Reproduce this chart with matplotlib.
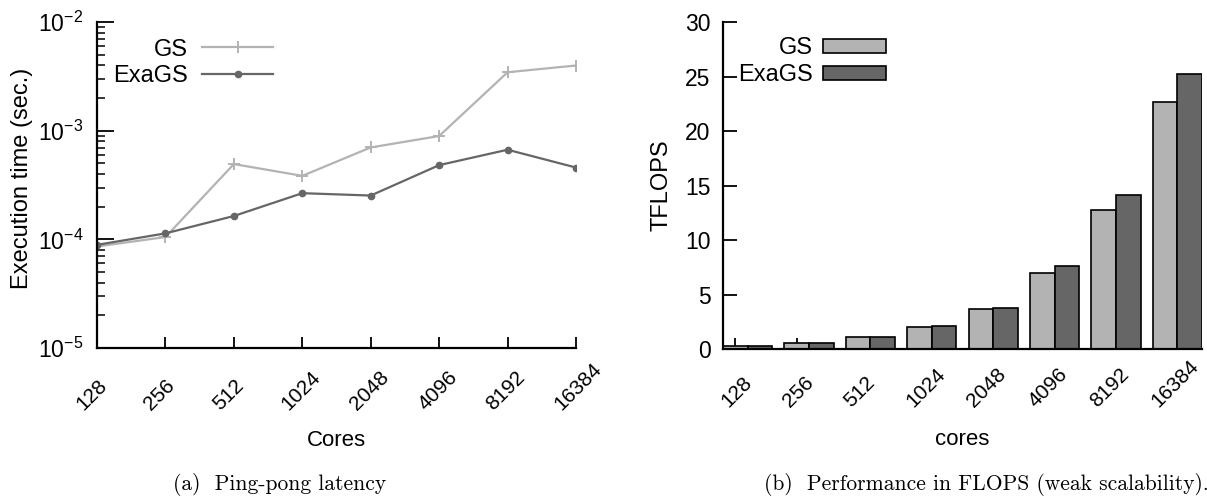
import numpy as np
import matplotlib
matplotlib.use("Agg")
import matplotlib.pyplot as plt
from matplotlib.ticker import LogLocator, NullFormatter, NullLocator
from matplotlib.transforms import blended_transform_factory, ScaledTranslation

plt.rcParams['font.family'] = ['Liberation Sans', 'DejaVu Sans']
plt.rcParams['mathtext.fontset'] = 'custom'
plt.rcParams['mathtext.rm'] = 'Liberation Sans'
plt.rcParams['mathtext.it'] = 'Liberation Sans:italic'
plt.rcParams['mathtext.bf'] = 'Liberation Sans:bold'

# data
cores = ["128", "256", "512", "1024", "2048", "4096", "8192", "16384"]
gs_latency = [8.6e-5, 1.05e-4, 4.93e-4, 3.84e-4, 7.01e-4, 8.93e-4, 3.45e-3, 3.98e-3]
exags_latency = [8.9e-5, 1.135e-4, 1.64e-4, 2.66e-4, 2.53e-4, 4.82e-4, 6.68e-4, 4.58e-4]
gs_tflops = [0.28, 0.58, 1.07, 2.05, 3.70, 7.0, 12.75, 22.7]
exags_tflops = [0.29, 0.58, 1.1, 2.14, 3.79, 7.65, 14.1, 25.2]

c_gs = "#b3b3b3"
c_exa = "#666666"
fs = 16.5
fs_xt = 15


def rotated_labels(ax, xs, labels, dx, dy):
    # gnuplot-like "rotate by 45": text starts below-left of the tick
    tr = blended_transform_factory(ax.transData, ax.transAxes) + \
        ScaledTranslation(dx / 100, dy / 100, ax.figure.dpi_scale_trans)
    for xi, lab in zip(xs, labels):
        ax.text(xi, 0, lab, transform=tr, rotation=45, rotation_mode='anchor',
                ha='left', va='center', fontsize=fs_xt, clip_on=False)


fig = plt.figure(figsize=(12.07, 5.04), dpi=100)

# ---- (a) latency
ax1 = fig.add_axes([0.0804, 0.3095, 0.3968, 0.6468])
x = np.arange(len(cores))
ax1.plot(x, gs_latency, color=c_gs, lw=1.6, marker='+', ms=9, mew=1.4, label="GS")
ax1.plot(x, exags_latency, color=c_exa, lw=1.6, marker='o', ms=4.5, label="ExaGS")
ax1.set_yscale('log')
ax1.set_ylim(1e-5, 1e-2)
ax1.set_xlim(0, 7)
ax1.yaxis.set_major_locator(LogLocator(base=10, numticks=10))
ax1.yaxis.set_minor_locator(LogLocator(base=10, subs=np.arange(2, 10), numticks=20))
ax1.yaxis.set_minor_formatter(NullFormatter())
ax1.set_xticks(x)
ax1.set_xticklabels([])
rotated_labels(ax1, x, cores, -18, -59)
ax1.tick_params(axis='x', direction='in', length=8, width=1.3)
ax1.tick_params(axis='y', which='major', direction='in', length=12, width=1.3, pad=10, labelsize=fs)
ax1.tick_params(axis='y', which='minor', direction='in', length=6, width=1.1)
ax1.set_xlabel("Cores", fontsize=16)
ax1.xaxis.set_label_coords(0.5, -0.25)
ax1.set_ylabel("Execution time (sec.)", fontsize=fs + 0.5)
ax1.yaxis.set_label_coords(-0.134, 0.52)
for s in ['top', 'right']:
    ax1.spines[s].set_visible(False)
for s in ['left', 'bottom']:
    ax1.spines[s].set_linewidth(1.6)
ax1.legend(loc='upper left', bbox_to_anchor=(0.0, 1.0), frameon=False, markerfirst=False,
           fontsize=fs + 0.5, handlelength=3.0, handletextpad=0.6, labelspacing=0.2,
           borderaxespad=0.3)

# ---- (b) FLOPS
ax2 = fig.add_axes([0.599, 0.3075, 0.3969, 0.6488])
w = 0.4
ax2.bar(x - w / 2, gs_tflops, width=w, color=c_gs, edgecolor='black', lw=1.2, label="GS")
ax2.bar(x + w / 2, exags_tflops, width=w, color=c_exa, edgecolor='black', lw=1.2, label="ExaGS")
ax2.set_axisbelow(True)
ax2.set_xlim(-0.4, 7.4)
ax2.set_ylim(0, 30)
ax2.set_yticks(range(0, 31, 5))
ax2.set_xticks(x - w / 2)
ax2.set_xticklabels([])
rotated_labels(ax2, x - w / 2, cores, -10.4, -55)
ax2.tick_params(axis='x', direction='in', length=8, width=1.3)
ax2.tick_params(axis='y', direction='in', length=10, width=1.3, pad=9, labelsize=fs)
ax2.set_xlabel("cores", fontsize=16)
ax2.xaxis.set_label_coords(0.5, -0.245)
ax2.set_ylabel("TFLOPS", fontsize=fs + 0.5)
ax2.yaxis.set_label_coords(-0.106, 0.5)
for s in ['top', 'right']:
    ax2.spines[s].set_visible(False)
for s in ['left', 'bottom']:
    ax2.spines[s].set_linewidth(1.6)
ax2.legend(loc='upper left', bbox_to_anchor=(0.0, 1.0), frameon=False, markerfirst=False,
           fontsize=fs + 0.5, handlelength=2.7, handleheight=0.55, handletextpad=0.4,
           labelspacing=0.2, borderaxespad=0.25)

# subfigure captions
fig.text(0.232, 0.038, "(a)  Ping-pong latency", fontfamily='cmr10', fontsize=15.5,
         ha='center', va='center')
fig.text(0.817, 0.038, "(b)  Performance in FLOPS (weak scalability).", fontfamily='cmr10',
         fontsize=15.5, ha='center', va='center')

fig.savefig("out.png", dpi=100)
